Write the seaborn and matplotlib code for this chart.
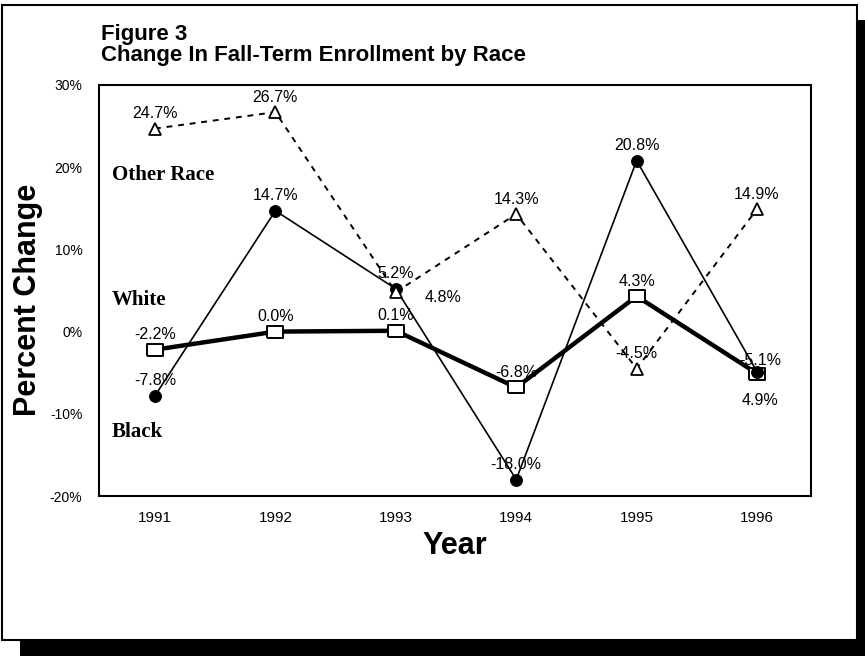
import matplotlib
matplotlib.use("Agg")
import matplotlib.pyplot as plt
from matplotlib.patches import Rectangle
import pandas as pd
import seaborn as sns

# values
years = [1991, 1992, 1993, 1994, 1995, 1996]
other_race = [24.7, 26.7, 4.8, 14.3, -4.5, 14.9]
white = [-2.2, 0.0, 0.1, -6.8, 4.3, -5.1]
black = [-7.8, 14.7, 5.2, -18.0, 20.8, -4.9]

other_labels = ["24.7%", "26.7%", "4.8%", "14.3%", "-4.5%", "14.9%"]
white_labels = ["-2.2%", "0.0%", "0.1%", "-6.8%", "4.3%", "-5.1%"]
black_labels = ["-7.8%", "14.7%", "5.2%", "-18.0%", "20.8%", "4.9%"]

y_ticks = [-20, -10, 0, 10, 20, 30]
y_tick_labels = ["-20%", "-10%", "0%", "10%", "20%", "30%"]

W, H = 865, 656


def fx(px):
    return px / W


def fy(py):
    return 1 - py / H


sns.set_theme(style="white")
plt.rcParams["font.family"] = ["Liberation Sans", "DejaVu Sans"]
plt.rcParams["text.color"] = "black"
plt.rcParams["axes.labelcolor"] = "black"
plt.rcParams["xtick.color"] = "black"
plt.rcParams["ytick.color"] = "black"

fig = plt.figure(figsize=(W / 100, H / 100), dpi=100)
fig.patch.set_facecolor("white")

# outer frame with drop shadow
fig.add_artist(Rectangle((fx(857), fy(656)), fx(8), (656 - 20) / H,
                         transform=fig.transFigure, color="black", lw=0))
fig.add_artist(Rectangle((fx(20), fy(656)), fx(845), 16 / H,
                         transform=fig.transFigure, color="black", lw=0))
fig.add_artist(Rectangle((fx(2), fy(640)), fx(855), (640 - 5) / H,
                         transform=fig.transFigure, fill=False,
                         edgecolor="black", lw=1.5))

ax = fig.add_axes([fx(99), fy(496), fx(811 - 99), (496 - 85) / H])

df = pd.DataFrame({"year": years, "Other Race": other_race,
                   "White": white, "Black": black})

rect_marker = [(-1.5, -1), (1.5, -1), (1.5, 1), (-1.5, 1), (-1.5, -1)]

sns.lineplot(data=df, x="year", y="White", ax=ax, color="black", lw=3.2,
             marker=rect_marker, markersize=12, markerfacecolor="white",
             markeredgecolor="black", markeredgewidth=1.4)
sns.lineplot(data=df, x="year", y="Black", ax=ax, color="black", lw=1.2,
             marker="o", markersize=8.5, markerfacecolor="black",
             markeredgecolor="black")
sns.lineplot(data=df, x="year", y="Other Race", ax=ax, color="black", lw=1.4,
             marker="^", markersize=8, markerfacecolor="white",
             markeredgecolor="black", markeredgewidth=1.3)
ax.lines[-1].set_linestyle((0, (3, 3)))

# data labels (offsets in pixels, default just above the marker)
offsets = {("Other Race", 2): (47, 5), ("Black", 5): (3, 29), ("White", 5): (3, -13)}
for name, vals, labs in [("Other Race", other_race, other_labels),
                         ("White", white, white_labels),
                         ("Black", black, black_labels)]:
    for i, (yr, v, lab) in enumerate(zip(years, vals, labs)):
        dx, dy = offsets.get((name, i), (0, -15))
        ax.annotate(lab, (yr, v), xytext=(dx * 0.72, -dy * 0.72),
                    textcoords="offset points", ha="center", va="center",
                    fontsize=11.5, color="black")

# series names inside the plot
for name, yv in [("Other Race", 19.0), ("White", 3.8), ("Black", -12.2)]:
    ax.text(1990.64, yv, name, ha="left", va="center", fontsize=15,
            family="Liberation Serif", fontweight="bold", color="black")

ax.set_xlim(1990.535, 1996.448)
ax.set_ylim(-20, 30)
ax.set_xticks(years)
ax.set_xticklabels([str(y) for y in years])
ax.set_yticks(y_ticks)
ax.set_yticklabels(y_tick_labels)
ax.tick_params(axis="both", length=0, labelsize=10, colors="black")
ax.tick_params(axis="x", labelsize=11, pad=11)
ax.tick_params(axis="y", pad=12)
ax.set_xlabel("")
ax.set_ylabel("")
for sp in ax.spines.values():
    sp.set_color("black")
    sp.set_linewidth(1.5)

fig.text(fx(455), fy(546), "Year", ha="center", va="center",
         fontsize=22, fontweight="bold")
fig.text(fx(28), fy(300), "Percent Change", ha="center", va="center",
         rotation=90, fontsize=22, fontweight="bold")

fig.text(fx(101), fy(40), "Figure 3", ha="left", va="baseline",
         fontsize=16, fontweight="bold")
fig.text(fx(101), fy(61), "Change In Fall-Term Enrollment by Race",
         ha="left", va="baseline", fontsize=16, fontweight="bold")

fig.savefig("out.png", dpi=100)
